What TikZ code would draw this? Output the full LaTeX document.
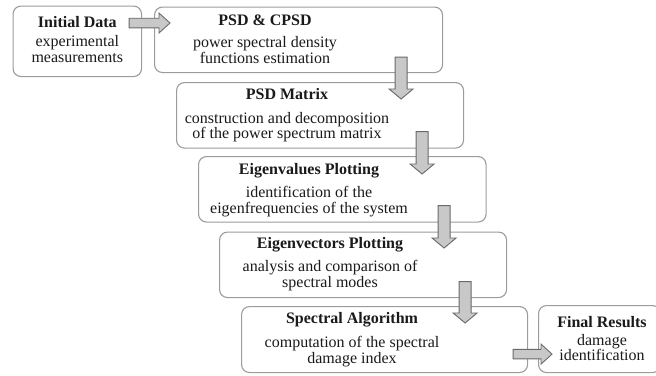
\documentclass[tikz,border=0pt]{standalone}
\usepackage{fontspec}
\setmainfont{Liberation Serif}
\usetikzlibrary{calc}

\definecolor{boxline}{HTML}{9C9C9C}
\definecolor{arrowfill}{HTML}{C8C8C8}
\definecolor{arrowline}{HTML}{6A6A6A}
\definecolor{inkcol}{HTML}{1A1A1A}

% Block arrow pointing down: start point, tip point
\newcommand{\flowdown}[2]{%
  \path[blockarrow] let \p1=(#1), \p2=(#2) in
    (\x1-6pt,\y1) -- (\x1+6pt,\y1) -- (\x1+6pt,\y2+10pt) -- (\x1+12pt,\y2+10pt)
    -- (\x1,\y2) -- (\x1-12pt,\y2+10pt) -- (\x1-6pt,\y2+10pt) -- cycle;}
% Block arrow pointing right: start point, tip point
\newcommand{\flowright}[2]{%
  \path[blockarrow] let \p1=(#1), \p2=(#2) in
    (\x1,\y1+4.8pt) -- (\x2-11pt,\y1+4.8pt) -- (\x2-11pt,\y1+10pt) -- (\x2,\y1)
    -- (\x2-11pt,\y1-10pt) -- (\x2-11pt,\y1-4.8pt) -- (\x1,\y1-4.8pt) -- cycle;}

\tikzset{
  stage/.style={draw=boxline, line width=1.1pt, rounded corners=8pt, fill=white,
    anchor=north west, inner sep=0pt, minimum width=287pt, minimum height=65.5pt},
  ttl/.style={anchor=base, inner sep=0pt, text=inkcol,
    font=\fontsize{16}{17}\selectfont\bfseries},
  txt/.style={anchor=base, inner sep=0pt, text=inkcol,
    font=\fontsize{16}{17}\selectfont},
  blockarrow/.style={draw=arrowline, fill=arrowfill, line width=0.9pt, line join=miter}
}

\begin{document}
\begin{tikzpicture}[x=1pt,y=1pt]
\useasboundingbox (0,0) rectangle (656,-375);

% stage boxes
\node[stage, minimum width=128.5pt, minimum height=70.5pt] (init) at (12.5,-5.5) {};
\node[stage, minimum width=288pt] (psd) at (154,-6.5) {};
\node[stage] (mat) at (176,-82) {};
\node[stage, minimum width=287.5pt] (eval) at (198,-156) {};
\node[stage] (evec) at (219,-231.5) {};
\node[stage, minimum width=286pt, minimum height=66pt] (alg) at (241,-306) {};
\node[stage, minimum width=122pt, minimum height=67pt] (fin) at (538,-305) {};

% texts
\node[ttl] (initT) at ($(init.north)+(0,-21.5)$) {Initial Data};
\node[txt] (initA) at ($(init.north)+(0,-40.5)$) {experimental};
\node[txt] (initB) at ($(init.north)+(0,-57)$) {measurements};

\node[ttl] (psdT) at ($(psd.north west)+(111,-18.5)$) {PSD \& CPSD};
\node[txt] (psdA) at ($(psd.north west)+(111,-40.5)$) {power spectral density};
\node[txt] (psdB) at ($(psd.north west)+(111,-56.5)$) {functions estimation};

\node[ttl] (matT) at ($(mat.north west)+(111,-17)$) {PSD Matrix};
\node[txt] (matA) at ($(mat.north west)+(111,-41)$) {construction and decomposition};
\node[txt] (matB) at ($(mat.north west)+(111,-56.5)$) {of the power spectrum matrix};

\node[ttl] (evalT) at ($(eval.north west)+(111,-18.5)$) {Eigenvalues Plotting};
\node[txt] (evalA) at ($(eval.north west)+(111,-41.5)$) {identification of the};
\node[txt] (evalB) at ($(eval.north west)+(111,-57)$) {eigenfrequencies of the system};

\node[ttl] (evecT) at ($(evec.north west)+(111,-17)$) {Eigenvectors Plotting};
\node[txt] (evecA) at ($(evec.north west)+(111,-39.5)$) {analysis and comparison of};
\node[txt] (evecB) at ($(evec.north west)+(111,-55.5)$) {spectral modes};

\node[ttl] (algT) at ($(alg.north west)+(111,-17.5)$) {Spectral Algorithm};
\node[txt] (algA) at ($(alg.north west)+(111,-41)$) {computation of the spectral};
\node[txt] (algB) at ($(alg.north west)+(111,-57)$) {damage index};

\node[ttl] (finT) at ($(fin.north west)+(64,-22)$) {Final Results};
\node[txt] (finA) at ($(fin.north west)+(64,-40)$) {damage};
\node[txt] (finB) at ($(fin.north west)+(64,-55.5)$) {identification};

% arrow end points
\coordinate (a1s) at ($(init.north east)+(-13,-17.5)$);
\coordinate (a1e) at ($(psd.north west)+(16,-16.5)$);
\coordinate (a2s) at ($(psd.south east)+(-42,16)$);
\coordinate (a2e) at ($(mat.north east)+(-63,-17)$);
\coordinate (a3s) at ($(mat.south east)+(-42,17)$);
\coordinate (a3e) at ($(eval.north east)+(-63.5,-18)$);
\coordinate (a4s) at ($(eval.south east)+(-42.5,17)$);
\coordinate (a4e) at ($(evec.north east)+(-63.5,-16.5)$);
\coordinate (a5s) at ($(evec.south east)+(-42,16.5)$);
\coordinate (a5e) at ($(alg.north east)+(-62.5,-17)$);
\coordinate (a6s) at ($(alg.south east)+(-15,19)$);
\coordinate (a6e) at ($(fin.south west)+(14,19)$);

% block arrows
\flowright{a1s}{a1e}
\flowdown{a2s}{a2e}
\flowdown{a3s}{a3e}
\flowdown{a4s}{a4e}
\flowdown{a5s}{a5e}
\flowright{a6s}{a6e}
\end{tikzpicture}
\end{document}
